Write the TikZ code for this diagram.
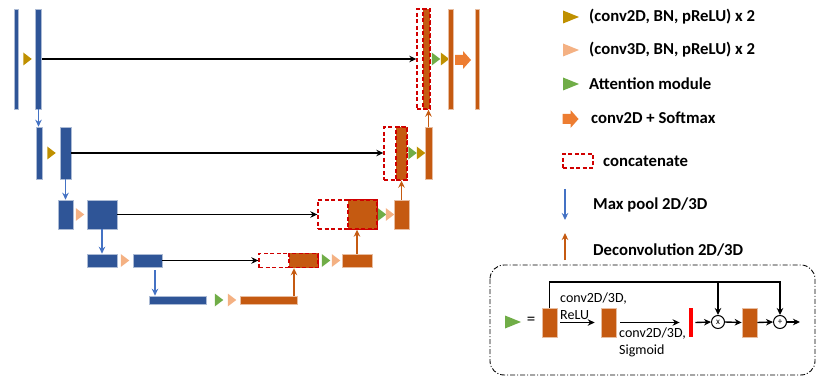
\documentclass[tikz,border=0pt]{standalone}
\usepackage{fontspec}
\setmainfont{Carlito}
\usepackage{tikz}
\usetikzlibrary{arrows.meta, positioning, calc}
\definecolor{UBlue}{HTML}{2F5597}
\definecolor{UOrange}{HTML}{C55A11}
\definecolor{Peach}{HTML}{F4B183}
\definecolor{Gold}{HTML}{BF9000}
\definecolor{AGreen}{HTML}{70AD47}
\definecolor{SoftOr}{HTML}{ED7D31}
\definecolor{CRed}{HTML}{D00000}
\definecolor{PoolBlue}{HTML}{4472C4}
\definecolor{BarRed}{HTML}{FF0000}

\begin{document}
\begin{tikzpicture}[>={Stealth[length=7pt, width=6.5pt]}, x=1pt, y=-1pt,
  sz/.style 2 args={minimum width=#1pt, minimum height=#2pt},
  enc/.style={fill=UBlue, draw=UBlue!40, line width=0.6pt, inner sep=0},
  dec/.style={fill=UOrange, draw=UOrange!40, line width=0.6pt, inner sep=0},
  cat/.style={draw=CRed, dash pattern=on 4pt off 2.5pt, line width=1.4pt, inner sep=0},
  catf/.style={cat, fill=UOrange},
  skip/.style={->, line width=1.5pt},
  pool/.style={->, PoolBlue, line width=1.4pt},
  deconv/.style={->, UOrange, line width=1.4pt},
  iarr/.style={->, line width=1.4pt},
  opnode/.style={circle, draw, line width=1pt, minimum size=13pt, inner sep=0,
    font=\fontsize{9}{9}\selectfont},
  lbl/.style={anchor=west, inner sep=0, font=\fontsize{16.7}{19}\selectfont\bfseries},
  ins/.style={inner sep=0, font=\fontsize{14}{17}\selectfont},
  tri/.pic={\fill[#1] (-4.25,-6.5) -- (4.25,0) -- (-4.25,6.5) -- cycle;},
  ltri/.pic={\fill[#1] (-8,-6.5) -- (8,0) -- (-8,6.5) -- cycle;},
  softmax/.pic={\fill[SoftOr] (-8,-5) -- (0,-5) -- (0,-9) -- (8,0) -- (0,9) -- (0,5) -- (-8,5) -- cycle;}]
  \useasboundingbox (0,0) rectangle (830,390);

  % Level 1
  \node[enc, sz={4}{100}] (a1) at (16,59) {};
  \pic at (27.5,59) {tri=Gold};
  \node[enc, sz={6.5}{100}] (a2) at (38.5,59) {};
  \node[cat, sz={13}{100}] (cat1) at (423.5,59) {};
  \node[catf, sz={7}{100}] (o1) at (426.5,59) {};
  \pic at (436,59) {tri=AGreen};
  \pic at (445,59) {tri=Gold};
  \node[dec, sz={4.5}{100}] (u1) at (451,59) {};
  \pic at (463,60) {softmax};
  \node[dec, sz={4}{100}] (outb) at (477,59) {};
  \draw[skip] (a2.east) -- (cat1.west);

  % Level 2
  \node[enc, sz={6}{52}] (b1) at (39,153) {};
  \pic at (51.5,153) {tri=Gold};
  \node[enc, sz={11}{52}] (b2) at (65.5,153) {};
  \node[cat, sz={23}{53}] (cat2) at (395.5,153.5) {};
  \node[catf, sz={11}{53}] (o2) at (401.5,153.5) {};
  \pic at (412.5,153) {tri=AGreen};
  \pic at (421,153) {tri=Gold};
  \node[dec, sz={7}{52}] (u2) at (428.5,153) {};
  \draw[skip] (b2.east) -- (b2.east -| cat2.west);
  \draw[pool] (a2.south) -- (a2.south |- b1.north);
  \draw[deconv] (u2.north) -- (u2.north |- cat1.south);

  % Level 3
  \node[enc, sz={15}{29}] (c1) at (65.5,214.5) {};
  \pic at (80,214.5) {tri=Peach};
  \node[enc, sz={30}{29}] (c2) at (102,214.5) {};
  \node[cat, sz={59}{29}] (cat3) at (347.5,214.5) {};
  \node[catf, sz={29}{29}] (o3) at (362.5,214.5) {};
  \pic at (382,214.5) {tri=AGreen};
  \pic at (390,214.5) {tri=Peach};
  \node[dec, sz={15}{29}] (u3) at (401.5,214.5) {};
  \draw[skip] (c2.east) -- (cat3.west);
  \draw[pool] (b2.south) -- (c1.north);
  \draw[deconv] (u3.north) -- (u3.north |- cat2.south);

  % Level 4
  \node[enc, sz={30}{13}] (d1) at (102,260.5) {};
  \pic at (125,260.5) {tri=Peach};
  \node[enc, sz={29}{13}] (d2) at (147.5,260.5) {};
  \node[cat, sz={59}{14}] (cat4) at (288.5,260.5) {};
  \node[catf, sz={29}{14}] (o4) at (303.5,260.5) {};
  \pic at (326,260.5) {tri=AGreen};
  \pic at (336,260.5) {tri=Peach};
  \node[dec, sz={30}{13}] (u4) at (357,260.5) {};
  \draw[skip] (d2.east) -- (cat4.west);
  \draw[pool] (c2.south) -- (d1.north);
  \draw[deconv] (u4.north) -- (u4.north |- cat3.south);

  % Level 5
  \node[enc, sz={57}{8}] (e1) at (177.5,300) {};
  \pic at (219,300) {tri=AGreen};
  \pic at (232,300) {tri=Peach};
  \node[dec, sz={57}{8}] (e2) at (268.5,300) {};
  \coordinate (p4) at (155,270);
  \coordinate (up5) at (294,296);
  \draw[pool] (p4) -- (p4 |- e1.north);
  \draw[deconv] (up5) -- (up5 |- cat4.south);

  % Legend
  \pic at (571,17) {ltri=Gold};
  \node[lbl] (lg2d) at (589,17) {(conv2D, BN, pReLU) x 2};
  \pic at (571,50) {ltri=Peach};
  \node[lbl] (lg3d) at (589,50) {(conv3D, BN, pReLU) x 2};
  \pic at (571,84) {ltri=AGreen};
  \node[lbl] (lgatt) at (589,84) {Attention module};
  \pic at (570.5,119) {softmax};
  \node[lbl] (lgsoft) at (591,118) {conv2D + Softmax};
  \node[cat, sz={30}{14}] (lgcat) at (578,161) {};
  \node[lbl] (lgcattxt) at (603,161) {concatenate};
  \coordinate (lgp1) at (565,189);
  \coordinate (lgp2) at (565,220);
  \draw[pool] (lgp1) -- (lgp2);
  \node[lbl] (lgpool) at (593,205) {Max pool 2D/3D};
  \coordinate (lgd1) at (565,260);
  \coordinate (lgd2) at (565,233);
  \draw[deconv] (lgd1) -- (lgd2);
  \node[lbl] (lgdec) at (593,250) {Deconvolution 2D/3D};

  % Attention module
  \draw[line width=0.9pt, dash pattern=on 5pt off 2pt on 1pt off 2pt, rounded corners=14pt]
    (490,265) rectangle (815,375);
  \pic at (513,322) {ltri=AGreen};
  \node[ins, font=\fontsize{17}{18}\selectfont] (eq) at (531,321) {=};
  \node[dec, sz={15}{29}] (m1) at (549.5,322.5) {};
  \node[dec, sz={15}{29}] (m2) at (608.5,322.5) {};
  \node[fill=BarRed, inner sep=0, sz={4.5}{29}] (mr) at (691,322.5) {};
  \node[opnode] (mul) at (718,322) {x};
  \node[dec, sz={15}{29}] (m3) at (749.5,322.5) {};
  \node[opnode] (add) at (780,322) {+};
  \coordinate (res) at (800,322);
  \coordinate (bus) at (0,282);
  \draw[iarr] ([xshift=3pt]m1.east) -- ([xshift=-6pt]m2.west);
  \node[ins, align=left, anchor=south west] (relu) at (560,320) {conv2D/3D,\\ReLU};
  \draw[iarr] ([xshift=4pt]m2.east) -- ([xshift=-9pt]mr.west);
  \node[ins, align=left, anchor=north west] (sigm) at (619,328) {conv2D/3D,\\Sigmoid};
  \draw[iarr] ([xshift=2pt]mr.east) -- (mul.west);
  \draw[iarr] (mul.east) -- (m3.west);
  \draw[iarr] (m3.east) -- (add.west);
  \draw[iarr] (add.east) -- (res);
  \draw[iarr] (m1.north) -- (m1.north |- bus) -| (add.north);
  \draw[iarr] (mul.north |- bus) -- (mul.north);
\end{tikzpicture}
\end{document}
